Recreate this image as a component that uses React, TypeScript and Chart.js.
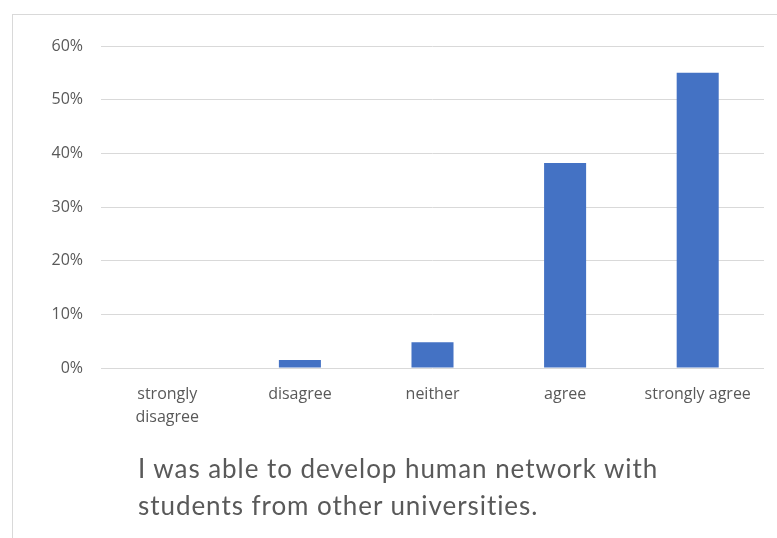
import { Chart, registerables } from "chart.js";
import { useEffect, useRef } from "react";

Chart.register(...registerables);

const categories: Array<string | string[]> = [
  ["strongly", "disagree"],
  "disagree",
  "neither",
  "agree",
  "strongly agree",
];
const shares = [0, 0.015, 0.048, 0.382, 0.55];
const yTicks = [0, 0.1, 0.2, 0.3, 0.4, 0.5, 0.6];
const titleLines = [
  "I was able to develop human network with",
  "students from other universities.",
];

const ink = "#595959";
const line = "#d9d9d9";

export default function App() {
  const ref = useRef<HTMLCanvasElement>(null);

  useEffect(() => {
    if (!ref.current) return;
    const chart = new Chart(ref.current, {
      type: "bar",
      data: {
        labels: categories,
        datasets: [
          {
            data: shares,
            backgroundColor: "#4472C4",
            borderWidth: 0,
            categoryPercentage: 1,
            barPercentage: 0.317,
          },
        ],
      },
      options: {
        responsive: false,
        animation: false,
        events: [],
        layout: { padding: { top: 46, right: 13, left: 0, bottom: 0 } },
        plugins: { legend: { display: false }, tooltip: { enabled: false } },
        scales: {
          x: {
            grid: { display: false, drawTicks: false },
            border: { display: false },
            ticks: {
              color: ink,
              padding: 15,
              maxRotation: 0,
              autoSkip: false,
              font: { family: "'Open Sans'", size: 16, lineHeight: 1.45 },
            },
            afterFit: (s) => {
              s.height = 170;
            },
          },
          y: {
            min: 0,
            max: yTicks[yTicks.length - 1],
            afterBuildTicks: (s) => {
              s.ticks = yTicks.map((v) => ({ value: v }));
            },
            grid: { color: line, drawTicks: false, lineWidth: 1 },
            border: { display: false },
            ticks: {
              color: ink,
              padding: 18,
              font: { family: "'Open Sans'", size: 16 },
              callback: (v) => `${Math.round(Number(v) * 100)}%`,
            },
            afterFit: (s) => {
              s.width = 101;
            },
          },
        },
      },
    });
    return () => chart.destroy();
  }, []);

  return (
    <div
      style={{
        position: "absolute",
        left: 0,
        top: 0,
        width: 777,
        height: 538,
        overflow: "hidden",
        background: "#fff",
      }}
    >
      <div
        style={{
          position: "absolute",
          left: 12,
          top: 14,
          width: 800,
          height: 600,
          borderLeft: `1px solid ${line}`,
          borderTop: `1px solid ${line}`,
        }}
      />
      <canvas ref={ref} width={777} height={538} style={{ position: "absolute", left: 0, top: 0 }} />
      <div
        style={{
          position: "absolute",
          left: 138,
          top: 450,
          color: ink,
          fontFamily: "Lato, 'Open Sans', sans-serif",
          fontSize: 26,
          letterSpacing: "0.95px",
          lineHeight: "37px",
          whiteSpace: "nowrap",
        }}
      >
        {titleLines.map((t) => (
          <div key={t}>{t}</div>
        ))}
      </div>
    </div>
  );
}
